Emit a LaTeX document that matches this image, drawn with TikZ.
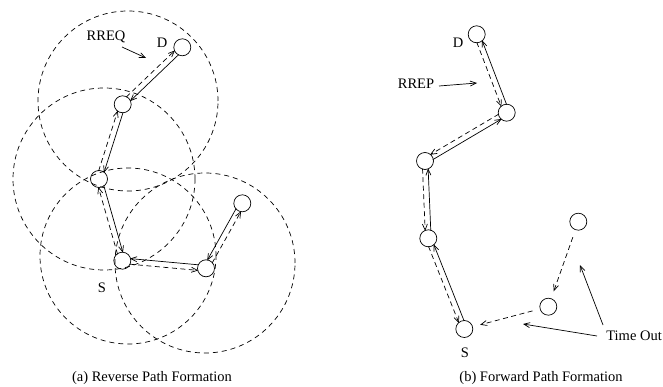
\documentclass[tikz,border=0pt]{standalone}
\usepackage{fontspec}
\setmainfont{Liberation Serif}
\usetikzlibrary{calc,arrows.meta}
\tikzset{
  nd/.style={circle,draw,minimum size=17pt,inner sep=0pt,line width=0.7pt},
  lbl/.style={inner sep=0pt,font=\fontsize{14.5}{17}\selectfont},
  rangecirc/.style={draw,dash pattern=on 5pt off 4pt,line width=0.7pt},
  tipV/.style={-{Straight Barb[length=6pt,width=5pt]}},
  sol/.style={tipV,line width=0.7pt,shorten <=7.5pt,shorten >=7.5pt},
  dsh/.style={sol,dash pattern=on 5pt off 3.5pt},
  ptr/.style={tipV,line width=0.7pt},
}
% left-hand pair offset (#4 = +90) / right-hand (#4 = -90)
\newcommand{\lnk}[4]{\draw[#1] ($(#2)!2.8pt!#4:(#3)$) -- ($(#3)!2.8pt!-#4:(#2)$);}
\begin{document}
\begin{tikzpicture}[x=1pt,y=-1pt]
\useasboundingbox (0,0) rectangle (663,387);
% ---------- (a) Reverse Path Formation ----------
\draw[rangecirc] (128,101) circle[radius=90pt];
\draw[rangecirc] (104,179) circle[radius=91pt];
\draw[rangecirc] (128,256) circle[radius=88pt];
\draw[rangecirc] (205,263) circle[radius=90pt];
\node[nd] (LD) at (182.3,47.3) {};
\node[nd] (L2) at (122.7,104.3) {};
\node[nd] (L3) at (99,179) {};
\node[nd] (LS) at (122.3,260.7) {};
\node[nd] (L5) at (206,268.3) {};
\node[nd] (L6) at (242.3,203.3) {};
\lnk{sol}{LD}{L2}{90}
\lnk{dsh}{L2}{LD}{90}
\lnk{sol}{L2}{L3}{90}
\lnk{dsh}{L3}{L2}{90}
\lnk{sol}{L3}{LS}{90}
\lnk{dsh}{LS}{L3}{90}
\lnk{sol}{L5}{LS}{-90}
\lnk{dsh}{LS}{L5}{-90}
\lnk{sol}{L6}{L5}{-90}
\lnk{dsh}{L5}{L6}{-90}
\node[lbl] (rreq) at (106,37) {RREQ};
\node[lbl] (dA) at (162,43) {D};
\node[lbl] (sA) at (102,288) {S};
\coordinate (rreqT) at (122,47);
\coordinate (rreqH) at (146,58);
\draw[ptr] (rreqT) -- (rreqH);
\node[lbl] (capA) at (152,378) {(a) Reverse Path Formation};
% ---------- (b) Forward Path Formation ----------
\node[nd] (RD) at (476.7,34.3) {};
\node[nd] (R2) at (506.7,112.7) {};
\node[nd] (R3) at (425,161) {};
\node[nd] (R4) at (428.3,238.3) {};
\node[nd] (RS) at (464.3,329) {};
\node[nd] (R6) at (548.3,306.7) {};
\node[nd] (R7) at (578.3,221.7) {};
\lnk{dsh}{RD}{R2}{-90}
\lnk{sol}{R2}{RD}{-90}
\lnk{dsh}{R2}{R3}{-90}
\lnk{sol}{R3}{R2}{-90}
\lnk{dsh}{R3}{R4}{-90}
\lnk{sol}{R4}{R3}{-90}
\lnk{dsh}{R4}{RS}{-90}
\lnk{sol}{RS}{R4}{-90}
\draw[dsh] (R6) -- (RS);
\draw[dsh] (R7) -- (R6);
\node[lbl] (dB) at (458,43) {D};
\node[lbl] (rrep) at (416,84) {RREP};
\node[lbl] (sB) at (465,353) {S};
\coordinate (rrepT) at (439,86);
\coordinate (rrepH) at (477,83);
\draw[ptr] (rrepT) -- (rrepH);
\node[lbl,anchor=east] (tout) at (662,336) {Time Out};
\coordinate (toT1) at (597,336);
\coordinate (toH1) at (523,324);
\coordinate (toT2) at (603,325);
\coordinate (toH2) at (580,265);
\draw[ptr] (toT1) -- (toH1);
\draw[ptr] (toT2) -- (toH2);
\node[lbl] (capB) at (541,378) {(b) Forward Path Formation};
\end{tikzpicture}
\end{document}
